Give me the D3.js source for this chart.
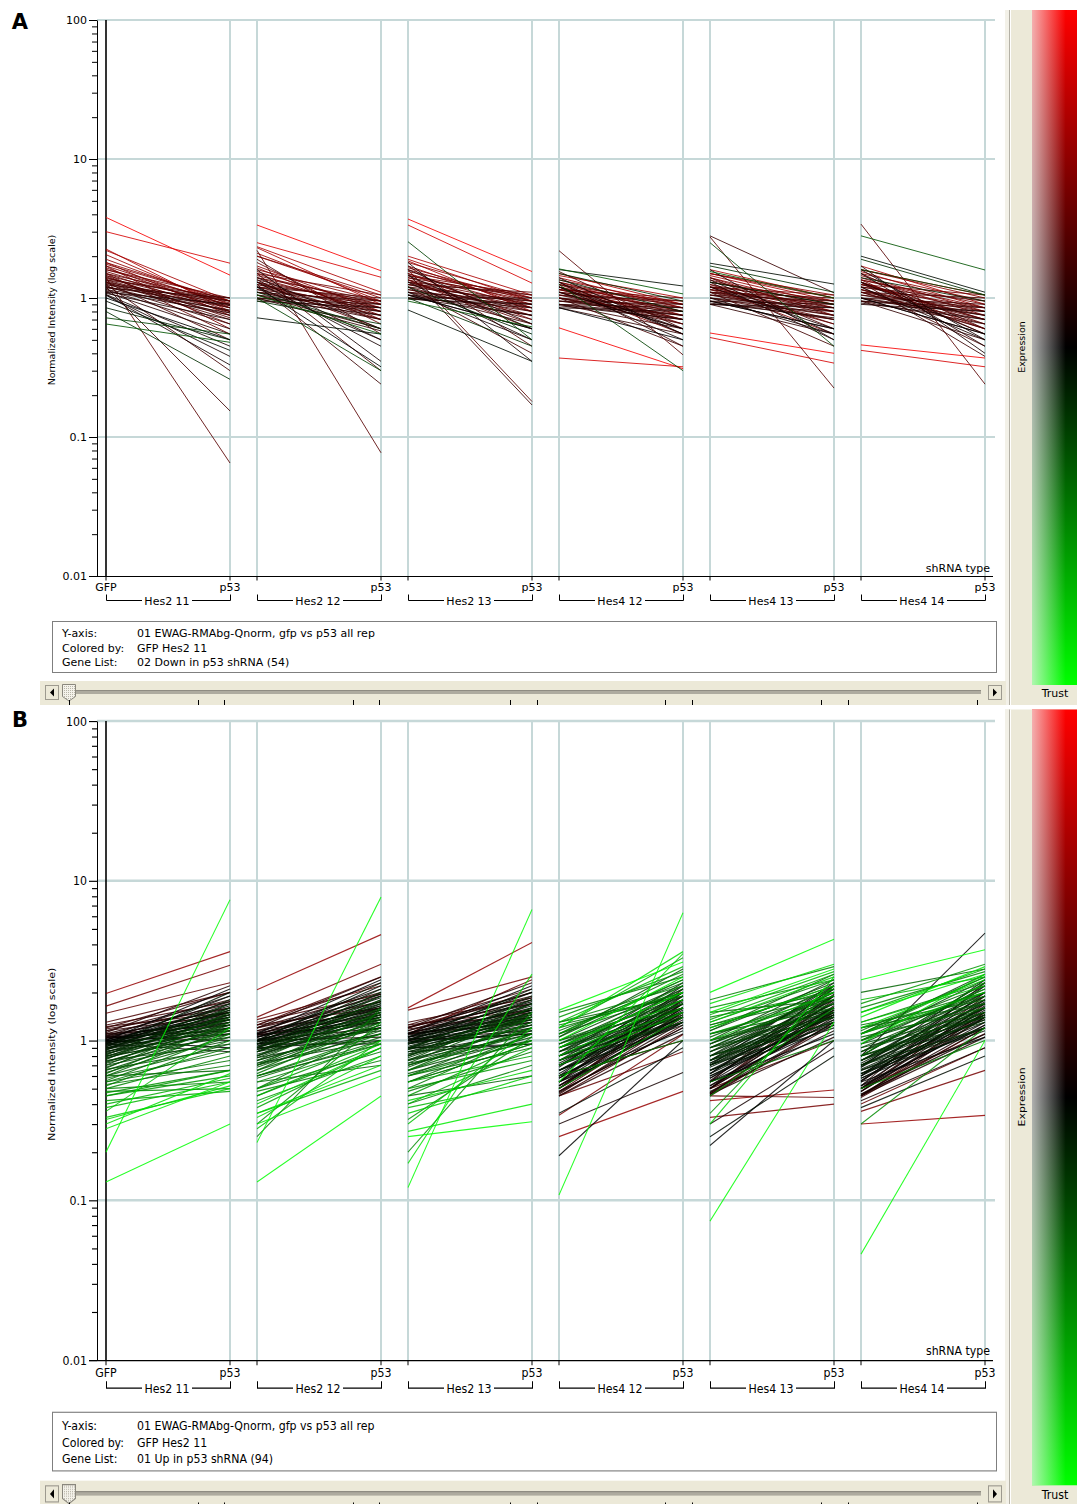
<!DOCTYPE html>
<html>
<head>
<meta charset="utf-8">
<script src="https://cdn.jsdelivr.net/npm/d3@7/dist/d3.min.js"></script>
<style>
  body { margin: 0; background: #fff; }
  text { font-family: "DejaVu Sans", Verdana, sans-serif; }
</style>
</head>
<body>
<svg id="chart" width="1077" height="1504"></svg>
<script>
// ---- chart values -------------------------------------------------------
const groups = ["Hes2 11", "Hes2 12", "Hes2 13", "Hes4 12", "Hes4 13", "Hes4 14"];
const conditions = ["GFP", "p53"];
const yTicks = [0.01, 0.1, 1, 10, 100];
const yTickLabels = ["0.01", "0.1", "1", "10", "100"];
const colorSource = "GFP Hes2 11";
const yAxisSource = "01 EWAG-RMAbg-Qnorm, gfp vs p53 all rep";

// one row per gene: GFP, p53 for each shRNA group (normalized intensity)
const downGenes = [
  [3.8,1.46, 3.35,1.57, 3.7,1.55, 0.61,0.31, 0.56,0.40, 0.46,0.37],
  [3.0,1.78, 2.5,1.41, 3.35,1.28, 0.37,0.32, 0.52,0.34, 0.42,0.32],
  [0.65,0.48, 1.05,0.55, 0.95,0.62, 1.62,1.07, 1.55,1.0, 2.8,1.59],
  [0.72,0.55, 1.0,0.30, 2.54,0.5, 1.25,0.30, 2.5,0.45, 1.6,1.05],
  [0.8,0.26, 0.95,0.65, 1.0,0.45, 1.5,0.95, 1.7,1.1, 1.9,1.05],
  [0.85,0.5, 1.1,0.6, 1.2,0.55, 1.35,0.8, 1.3,0.9, 1.4,0.95],
  [0.95,0.42, 0.72,0.55, 0.82,0.35, 1.6,1.22, 1.78,1.26, 2.0,1.1],
  [1.0,0.5, 1.2,0.32, 1.05,0.6, 0.85,0.5, 0.95,0.6, 1.0,0.55],
  [1.05,0.33, 1.3,0.45, 1.1,0.5, 1.1,0.6, 1.0,0.55, 1.2,0.5],
  [1.4,0.065, 2.2,0.077, 1.6,0.18, 2.19,0.39, 2.75,0.225, 3.4,0.24],
  [1.2,0.154, 1.25,0.24, 1.5,0.17, 1.3,0.45, 2.8,1.09, 1.3,0.38],
  [2.25,0.8, 2.34,1.1, 2.0,1.05, 1.5,0.9, 1.6,1.0, 1.7,0.9],
  [2.2,0.95, 2.3,0.9, 1.9,0.95, 1.45,1.0, 1.5,0.95, 1.6,1.05],
  [2.05,0.85, 2.1,0.95, 1.85,0.8, 1.4,0.85, 1.45,0.9, 1.55,0.85],
  [1.9,0.9, 2.0,1.0, 1.8,1.0, 1.35,0.9, 1.5,1.05, 1.5,0.95],
  [1.8,0.75, 1.7,0.8, 1.7,0.85, 1.3,0.75, 1.4,0.85, 1.45,0.8],
  [1.75,0.95, 1.6,0.95, 1.6,0.9, 1.25,0.8, 1.35,0.8, 1.4,0.75],
  [1.7,0.88, 1.55,0.85, 1.55,1.0, 1.3,0.85, 1.3,0.95, 1.35,0.85],
  [1.65,0.8, 1.5,0.75, 1.5,0.85, 1.2,0.7, 1.4,0.75, 1.3,0.7],
  [1.6,0.92, 1.45,0.9, 1.45,0.95, 1.25,0.9, 1.25,0.85, 1.35,0.9],
  [1.55,0.85, 1.4,0.8, 1.4,0.8, 1.15,0.75, 1.2,0.8, 1.25,0.8],
  [1.5,0.78, 1.4,0.95, 1.35,0.9, 1.2,0.8, 1.3,0.9, 1.3,0.65],
  [1.5,0.95, 1.35,0.85, 1.4,1.0, 1.1,0.85, 1.15,0.9, 1.2,0.85],
  [1.45,0.9, 1.3,0.9, 1.3,0.85, 1.15,0.7, 1.2,0.75, 1.15,0.75],
  [1.42,0.72, 1.3,0.7, 1.3,0.75, 1.1,0.65, 1.1,0.7, 1.25,0.7],
  [1.4,0.85, 1.25,0.8, 1.25,0.9, 1.05,0.8, 1.15,0.85, 1.1,0.8],
  [1.38,0.95, 1.25,0.95, 1.3,1.05, 1.1,0.9, 1.2,0.95, 1.2,0.95],
  [1.35,0.8, 1.2,0.85, 1.25,0.8, 1.0,0.75, 1.1,0.8, 1.15,0.7],
  [1.33,0.75, 1.2,0.75, 1.2,0.7, 1.05,0.7, 1.05,0.75, 1.1,0.65],
  [1.3,0.9, 1.15,0.9, 1.2,0.95, 1.0,0.85, 1.1,0.9, 1.05,0.85],
  [1.3,0.7, 1.15,0.7, 1.15,0.75, 1.0,0.65, 1.0,0.7, 1.1,0.6],
  [1.28,0.85, 1.1,0.8, 1.15,0.85, 0.95,0.75, 1.05,0.8, 1.05,0.75],
  [1.25,0.8, 1.1,0.75, 1.1,0.8, 1.0,0.7, 1.0,0.75, 1.0,0.7],
  [1.25,0.95, 1.1,0.95, 1.1,0.95, 0.95,0.9, 1.05,0.95, 1.0,0.9],
  [1.22,0.65, 1.05,0.6, 1.1,0.65, 0.9,0.6, 0.95,0.6, 1.0,0.55],
  [1.2,0.88, 1.05,0.85, 1.05,0.9, 0.95,0.8, 1.0,0.85, 0.95,0.8],
  [1.2,0.75, 1.05,0.7, 1.05,0.75, 0.9,0.7, 0.95,0.7, 0.95,0.65],
  [1.18,1.0, 1.0,0.9, 1.0,1.0, 0.9,0.85, 0.95,0.9, 0.95,0.85],
  [1.15,0.82, 1.0,0.8, 1.0,0.85, 0.9,0.75, 0.9,0.8, 1.0,0.75],
  [1.15,0.6, 1.0,0.58, 1.05,0.6, 0.85,0.55, 0.9,0.55, 0.95,0.5],
  [1.12,0.78, 0.98,0.75, 1.0,0.75, 0.88,0.7, 0.92,0.72, 0.92,0.7],
  [1.1,0.9, 0.95,0.85, 0.98,0.9, 0.85,0.8, 0.9,0.85, 0.9,0.8],
  [1.1,0.55, 1.35,0.5, 1.6,0.65, 1.3,0.55, 1.3,0.5, 1.5,0.45],
  [1.08,0.7, 1.4,0.6, 1.45,0.6, 1.2,0.6, 1.2,0.6, 1.3,0.55],
  [1.06,0.45, 1.2,0.5, 1.3,0.5, 1.2,0.5, 1.35,0.55, 1.6,0.5],
  [1.05,0.38, 1.6,0.35, 1.8,0.35, 1.4,0.55, 1.6,0.5, 1.7,0.4],
  [1.3,0.5, 1.9,0.55, 1.7,0.45, 1.55,0.6, 1.4,0.6, 1.5,0.6],
  [1.5,0.55, 1.8,0.65, 1.35,0.6, 1.25,0.65, 1.25,0.65, 1.35,0.55],
  [1.7,0.6, 1.65,0.7, 1.5,0.7, 1.2,0.55, 1.2,0.55, 1.3,0.6],
  [1.8,0.95, 2.0,1.05, 1.65,0.95, 1.15,0.95, 1.5,1.0, 1.6,1.0],
  [1.25,0.3, 1.5,0.3, 1.2,0.4, 1.0,0.45, 1.1,0.45, 1.2,0.45],
  [1.35,1.0, 1.2,1.0, 1.25,1.1, 1.05,0.95, 1.1,1.0, 1.1,1.0],
  [1.6,1.0, 1.5,1.05, 1.45,1.05, 1.15,1.0, 1.2,1.05, 1.25,1.05],
  [1.45,0.65, 1.3,0.6, 1.35,0.65, 1.1,0.6, 1.15,0.65, 1.15,0.6]
];

const upGenes = [
  [0.13,0.30, 0.13,0.45, 0.25,0.31, 1.55,3.1, 2.0,4.3, 2.4,3.7],
  [0.2,7.6, 0.23,7.9, 0.12,6.6, 0.108,6.3, 0.074,1.3, 0.046,1.0],
  [1.97,3.6, 2.08,4.6, 1.6,4.1, 0.25,0.48, 0.42,0.49, 0.30,0.34],
  [1.64,2.96, 1.4,3.0, 1.55,2.5, 0.34,1.09, 0.33,0.40, 0.36,0.65],
  [1.48,2.3, 1.35,2.2, 1.1,2.4, 0.45,0.85, 0.45,0.44, 0.4,0.9],
  [1.3,2.0, 1.25,2.5, 1.2,2.0, 0.6,1.0, 0.5,1.0, 0.5,1.1],
  [0.28,0.55, 0.3,0.6, 0.27,0.4, 1.0,2.5, 1.5,2.8, 1.4,2.9],
  [0.3,0.62, 0.35,0.7, 0.17,2.6, 1.2,3.6, 1.7,3.0, 1.5,2.6],
  [0.33,0.5, 0.4,0.9, 0.35,0.6, 0.9,2.0, 1.3,2.5, 1.2,2.4],
  [0.36,1.2, 0.28,1.0, 0.3,1.2, 0.8,1.8, 1.2,2.2, 1.3,2.2],
  [0.4,0.58, 0.45,0.95, 0.4,0.9, 0.7,1.5, 1.0,2.0, 1.1,2.0],
  [0.45,0.65, 0.5,1.0, 0.45,1.0, 0.75,1.6, 1.1,1.9, 1.0,2.1],
  [0.6,0.65, 0.55,0.7, 0.45,0.6, 1.3,1.9, 1.5,1.8, 2.0,2.8],
  [0.5,0.8, 0.55,0.95, 0.6,1.0, 1.3,2.2, 1.4,2.0, 1.3,2.3],
  [0.52,1.0, 0.6,1.1, 0.55,0.95, 1.2,2.0, 1.3,2.4, 1.2,2.0],
  [0.55,0.9, 0.5,1.2, 0.5,1.1, 1.1,2.6, 1.25,1.9, 1.15,2.5],
  [0.56,1.1, 0.62,1.3, 0.65,1.2, 1.25,1.9, 1.2,2.2, 1.25,1.8],
  [0.58,0.85, 0.58,1.0, 0.6,0.9, 1.0,1.8, 1.1,1.8, 1.1,1.9],
  [0.6,1.2, 0.65,1.4, 0.7,1.3, 1.15,2.3, 1.15,2.6, 1.1,2.2],
  [0.6,0.95, 0.6,1.05, 0.55,1.1, 0.95,1.7, 1.0,1.7, 1.05,1.6],
  [0.62,1.3, 0.7,1.5, 0.65,1.4, 1.1,2.0, 1.05,2.1, 1.0,2.0],
  [0.63,1.05, 0.65,1.15, 0.6,1.2, 1.05,2.4, 1.1,1.6, 1.2,1.7],
  [0.65,1.15, 0.68,1.25, 0.7,1.1, 1.0,1.6, 0.95,1.9, 1.0,1.7],
  [0.66,0.9, 0.6,0.95, 0.62,1.0, 0.9,1.5, 1.0,1.5, 0.95,1.5],
  [0.67,1.4, 0.75,1.6, 0.72,1.5, 1.05,2.8, 1.15,2.3, 1.1,2.6],
  [0.68,1.25, 0.72,1.35, 0.68,1.3, 0.95,2.1, 0.9,2.0, 0.9,1.9],
  [0.7,1.0, 0.7,1.1, 0.65,1.05, 0.9,1.8, 0.95,1.8, 0.85,1.6],
  [0.7,1.5, 0.8,1.8, 0.75,1.6, 1.0,2.2, 1.0,2.4, 1.0,2.4],
  [0.72,1.1, 0.75,1.2, 0.7,1.15, 0.85,1.4, 0.9,1.4, 0.9,1.4],
  [0.73,1.3, 0.78,1.45, 0.8,1.4, 0.95,1.9, 0.85,1.7, 0.85,1.8],
  [0.74,1.2, 0.7,1.3, 0.75,1.25, 0.9,1.6, 0.9,1.6, 0.8,1.5],
  [0.75,0.95, 0.72,1.0, 0.72,1.0, 0.8,1.3, 0.8,1.3, 0.8,1.3],
  [0.76,1.6, 0.85,1.9, 0.8,1.7, 0.9,2.0, 0.95,2.2, 0.95,2.1],
  [0.77,1.35, 0.8,1.5, 0.78,1.45, 0.85,1.7, 0.85,1.6, 0.75,1.6],
  [0.78,1.15, 0.75,1.25, 0.76,1.2, 0.8,1.5, 0.8,1.4, 0.8,1.4],
  [0.79,1.45, 0.85,1.7, 0.82,1.6, 0.85,1.9, 0.9,1.9, 0.85,2.0],
  [0.8,1.25, 0.8,1.4, 0.85,1.35, 0.8,1.6, 0.8,1.5, 0.75,1.45],
  [0.8,1.05, 0.78,1.1, 0.75,1.1, 0.75,1.3, 0.75,1.3, 0.7,1.2],
  [0.81,1.7, 0.9,2.0, 0.88,1.8, 0.85,2.1, 0.85,2.0, 0.8,2.2],
  [0.82,1.4, 0.85,1.55, 0.8,1.5, 0.8,1.7, 0.75,1.7, 0.75,1.7],
  [0.83,1.2, 0.82,1.3, 0.85,1.25, 0.75,1.45, 0.75,1.45, 0.7,1.35],
  [0.84,1.55, 0.9,1.75, 0.9,1.7, 0.8,1.8, 0.8,1.8, 0.75,1.9],
  [0.85,1.3, 0.85,1.45, 0.88,1.4, 0.75,1.5, 0.7,1.55, 0.7,1.5],
  [0.86,1.1, 0.85,1.2, 0.82,1.15, 0.7,1.3, 0.7,1.25, 0.65,1.2],
  [0.87,1.8, 0.95,2.1, 0.95,1.9, 0.8,2.3, 0.8,2.1, 0.8,2.3],
  [0.88,1.45, 0.9,1.6, 0.9,1.5, 0.75,1.6, 0.72,1.6, 0.7,1.6],
  [0.88,1.25, 0.88,1.35, 0.9,1.3, 0.7,1.4, 0.7,1.4, 0.65,1.35],
  [0.89,1.6, 0.92,1.8, 0.95,1.7, 0.72,1.75, 0.75,1.9, 0.72,1.8],
  [0.9,1.35, 0.9,1.5, 0.92,1.45, 0.7,1.5, 0.68,1.5, 0.66,1.45],
  [0.9,1.15, 0.88,1.2, 0.88,1.2, 0.65,1.25, 0.65,1.2, 0.62,1.15],
  [0.91,2.0, 1.0,2.3, 1.0,2.1, 0.75,2.0, 0.75,2.2, 0.75,2.0],
  [0.92,1.5, 0.95,1.65, 0.95,1.55, 0.7,1.6, 0.7,1.7, 0.68,1.7],
  [0.92,1.3, 0.92,1.4, 0.95,1.35, 0.65,1.4, 0.65,1.35, 0.62,1.3],
  [0.93,1.7, 0.98,1.9, 1.0,1.8, 0.7,1.9, 0.72,1.8, 0.7,1.9],
  [0.94,1.4, 0.95,1.55, 0.97,1.5, 0.65,1.5, 0.62,1.45, 0.6,1.45],
  [0.95,1.2, 0.95,1.3, 0.95,1.25, 0.6,1.3, 0.6,1.3, 0.58,1.2],
  [0.95,1.9, 1.0,2.2, 1.05,2.0, 0.68,2.2, 0.7,2.3, 0.68,2.4],
  [0.96,1.55, 1.0,1.7, 1.0,1.65, 0.65,1.7, 0.65,1.6, 0.62,1.6],
  [0.97,1.35, 0.98,1.45, 1.0,1.4, 0.6,1.4, 0.6,1.45, 0.58,1.4],
  [0.98,1.1, 0.95,1.15, 0.98,1.1, 0.55,1.15, 0.55,1.1, 0.55,1.05],
  [0.98,1.65, 1.05,1.85, 1.05,1.75, 0.62,1.8, 0.62,1.9, 0.6,1.75],
  [0.99,1.45, 1.0,1.6, 1.02,1.55, 0.58,1.55, 0.58,1.5, 0.56,1.55],
  [1.0,1.25, 1.0,1.35, 1.0,1.3, 0.55,1.3, 0.55,1.25, 0.52,1.25],
  [1.0,2.1, 1.1,2.4, 1.1,2.2, 0.6,2.0, 0.62,2.1, 0.6,2.2],
  [1.01,1.5, 1.05,1.65, 1.05,1.6, 0.55,1.6, 0.55,1.6, 0.52,1.65],
  [1.02,1.3, 1.02,1.4, 1.05,1.35, 0.52,1.35, 0.52,1.35, 0.5,1.3],
  [1.03,1.75, 1.08,1.95, 1.1,1.85, 0.58,1.7, 0.58,1.75, 0.56,1.8],
  [1.04,1.4, 1.05,1.5, 1.08,1.45, 0.5,1.45, 0.5,1.4, 0.48,1.4],
  [1.05,1.15, 1.0,1.2, 1.02,1.15, 0.48,1.2, 0.48,1.15, 0.46,1.1],
  [1.05,1.6, 1.1,1.75, 1.1,1.7, 0.52,1.5, 0.52,1.55, 0.5,1.5],
  [1.06,1.9, 1.12,2.1, 1.15,2.0, 0.55,1.9, 0.56,1.95, 0.55,2.0],
  [1.07,1.35, 1.08,1.45, 1.1,1.4, 0.47,1.3, 0.47,1.3, 0.46,1.25],
  [1.08,1.5, 1.1,1.6, 1.12,1.55, 0.5,1.4, 0.5,1.45, 0.48,1.45],
  [1.1,1.25, 1.08,1.3, 1.1,1.3, 0.45,1.1, 0.46,1.05, 0.45,1.05],
  [1.1,1.7, 1.15,1.9, 1.15,1.8, 0.52,1.6, 0.5,1.65, 0.5,1.6],
  [1.12,2.2, 1.2,2.5, 1.2,2.3, 0.55,2.1, 0.55,2.2, 0.52,2.3],
  [1.15,1.45, 1.15,1.55, 1.18,1.5, 0.48,1.2, 0.46,1.25, 0.45,1.2],
  [1.15,1.8, 1.2,2.0, 1.2,1.9, 0.5,1.7, 0.5,1.8, 0.48,1.7],
  [1.18,1.6, 1.2,1.75, 1.22,1.7, 0.46,1.4, 0.47,1.5, 0.45,1.4],
  [1.2,2.0, 1.25,2.3, 1.25,2.1, 0.5,1.8, 0.5,1.9, 0.5,1.9],
  [1.22,1.5, 1.25,1.6, 1.25,1.55, 0.45,1.25, 0.45,1.3, 0.44,1.2],
  [1.25,1.75, 1.3,1.95, 1.3,1.85, 0.48,1.5, 0.46,1.55, 0.45,1.5],
  [1.0,0.9, 0.95,0.95, 0.9,0.95, 0.19,1.0, 0.22,1.0, 0.8,4.7],
  [1.05,1.0, 1.0,1.05, 1.0,1.1, 0.3,0.63, 0.3,0.9, 0.42,0.9],
  [0.95,0.85, 0.9,1.0, 0.85,0.95, 0.35,0.9, 0.25,0.8, 0.38,0.8],
  [0.5,0.55, 0.48,0.75, 0.4,0.7, 1.5,2.5, 1.8,2.9, 1.6,2.7],
  [0.45,0.6, 0.42,0.8, 0.5,0.75, 1.4,2.7, 1.6,2.4, 1.7,3.0],
  [0.38,0.55, 0.35,0.65, 0.38,0.55, 1.3,2.9, 1.45,2.7, 1.8,2.5],
  [0.42,0.48, 0.38,0.9, 0.55,0.8, 1.2,3.3, 1.35,2.6, 1.5,2.8],
  [0.32,0.52, 0.33,0.8, 0.42,0.65, 0.55,3.5, 0.3,2.5, 0.95,2.6],
  [0.47,0.65, 0.45,0.9, 0.32,1.05, 1.1,2.4, 0.35,2.2, 1.1,2.5],
  [0.53,0.7, 0.5,0.85, 0.48,0.85, 0.9,2.2, 1.25,2.1, 0.8,2.3],
  [0.48,0.5, 0.3,1.3, 0.2,1.5, 0.5,1.4, 0.45,1.6, 0.3,1.2],
  [0.55,0.75, 0.25,1.6, 0.55,0.95, 0.6,1.0, 0.55,1.0, 0.5,1.0]
];

const panels = [
  { letter: "A", genes: downGenes, listName: "02 Down in p53 shRNA" },
  { letter: "B", genes: upGenes,   listName: "01 Up in p53 shRNA" }
];

// ---- scales ---------------------------------------------------------------
const x = d3.scaleBand().domain(groups).range([106, 985])
  .paddingInner(27 / 151).paddingOuter(0).align(0);
const xc = d3.scalePoint().domain(conditions).range([0, x.bandwidth()]);
const y = d3.scaleLog().domain([0.01, 100]).range([576, 20]);
// expression colour: green (low) - black (1) - red (high), on a log-ratio scale
const colorT = d3.scaleLog().domain([0.25, 4]).range([-1, 1]).clamp(true);
function color(v) {
  const t = colorT(v);
  if (t >= 0) return d3.rgb(Math.round(255 * Math.pow(t, 0.75)), 0, 0).formatHex();
  return d3.rgb(0, Math.round(255 * Math.pow(-t, 0.95)), 0).formatHex();
}

const svg = d3.select("#chart");
const beige = "#ece9d8";
const gridColor = "#c6d8d8";
const fs = 11;

// gradients for the colour key
const defs = svg.append("defs");
const eg = defs.append("linearGradient").attr("id", "exprGrad")
  .attr("x1", 0).attr("y1", 0).attr("x2", 0).attr("y2", 1);
eg.append("stop").attr("offset", 0).attr("stop-color", "#ff0000");
eg.append("stop").attr("offset", 0.5).attr("stop-color", "#000000");
eg.append("stop").attr("offset", 1).attr("stop-color", "#00ff00");
const tg = defs.append("linearGradient").attr("id", "trustGrad")
  .attr("x1", 0).attr("y1", 0).attr("x2", 1).attr("y2", 0);
tg.append("stop").attr("offset", 0).attr("stop-color", "#f4f4f4").attr("stop-opacity", 0.72);
tg.append("stop").attr("offset", 0.75).attr("stop-color", "#f4f4f4").attr("stop-opacity", 0);
const dots = defs.append("pattern").attr("id", "thumbDots").attr("width", 2).attr("height", 2)
  .attr("patternUnits", "userSpaceOnUse");
dots.append("rect").attr("width", 2).attr("height", 2).attr("fill", "#f4f2ea");
dots.append("rect").attr("width", 1).attr("height", 1).attr("fill", "#b8b5a8");

function drawPanel(g, genes, listName) {
  // right-hand colour key
  g.append("rect").attr("x", 1005).attr("y", 10).attr("width", 72).attr("height", 695).attr("fill", beige);
  g.append("rect").attr("x", 1005).attr("y", 10).attr("width", 4).attr("height", 695).attr("fill", "#f3f1e8");
  g.append("line").attr("x1", 1009.5).attr("x2", 1009.5).attr("y1", 10).attr("y2", 705)
    .attr("stroke", "#b4b1a6");
  g.append("line").attr("x1", 1010.5).attr("x2", 1010.5).attr("y1", 10).attr("y2", 705)
    .attr("stroke", "#ffffff");
  g.append("rect").attr("x", 1032).attr("y", 10).attr("width", 45).attr("height", 675)
    .attr("fill", "url(#exprGrad)");
  g.append("rect").attr("x", 1032).attr("y", 10).attr("width", 45).attr("height", 675)
    .attr("fill", "url(#trustGrad)");
  g.append("text").attr("transform", "translate(1025,347) rotate(-90)")
    .attr("text-anchor", "middle").attr("font-size", 9.5).attr("fill", "#000").text("Expression");
  g.append("text").attr("x", 1055).attr("y", 697).attr("text-anchor", "middle")
    .attr("font-size", fs).attr("fill", "#000").text("Trust");

  // horizontal grid at each decade
  g.append("g").selectAll("line").data(yTicks.slice(1)).join("line")
    .attr("x1", 97).attr("x2", 995)
    .attr("y1", d => y(d)).attr("y2", d => y(d))
    .attr("stroke", gridColor).attr("stroke-width", 2);

  // vertical condition columns
  const cols = groups.flatMap(gr => conditions.map(c => ({ gr, c, x: x(gr) + xc(c) })));
  g.append("g").selectAll("line").data(cols).join("line")
    .attr("x1", d => d.x).attr("x2", d => d.x).attr("y1", y(100)).attr("y2", y(0.01))
    .attr("stroke", (d, i) => i === 0 ? "#000" : gridColor)
    .attr("stroke-width", (d, i) => i === 0 ? 1.6 : 2);

  // gene profiles, one segment per shRNA group
  const order = genes.map((r, i) => i).sort((a, b) => genes[b][0] - genes[a][0]);
  const segs = [];
  order.forEach(i => {
    const r = genes[i];
    groups.forEach((gr, k) => {
      segs.push({ x0: x(gr) + xc("GFP"), x1: x(gr) + xc("p53"),
                  v0: r[2 * k], v1: r[2 * k + 1], c: color(r[0]) });
    });
  });
  g.append("g").selectAll("line").data(segs).join("line")
    .attr("x1", d => d.x0).attr("x2", d => d.x1)
    .attr("y1", d => y(d.v0)).attr("y2", d => y(d.v1))
    .attr("stroke", d => d.c).attr("stroke-width", 1).attr("stroke-opacity", 0.85);

  // y axis with minor ticks
  const minors = [];
  [0.01, 0.1, 1, 10].forEach(dec => { for (let m = 2; m <= 9; m++) minors.push(dec * m); });
  const yAxis = g.append("g").attr("transform", "translate(97,0)")
    .call(d3.axisLeft(y).tickValues(yTicks).tickSize(8).tickSizeOuter(0).tickPadding(2)
      .tickFormat((d, i) => yTickLabels[i]));
  yAxis.selectAll("text").attr("font-size", fs).attr("font-family", "DejaVu Sans, Verdana, sans-serif");
  g.append("g").attr("transform", "translate(97,0)")
    .call(d3.axisLeft(y).tickValues(minors).tickSize(5).tickSizeOuter(0).tickFormat(""))
    .select(".domain").remove();
  g.append("text").attr("transform", "translate(55,310) rotate(-90)")
    .attr("text-anchor", "middle").attr("font-size", 9.5).text("Normalized Intensity (log scale)");

  // bottom axis
  g.append("line").attr("x1", 89).attr("x2", 993).attr("y1", 576.5).attr("y2", 576.5)
    .attr("stroke", "#000");
  g.append("g").selectAll("line").data(cols).join("line")
    .attr("x1", d => d.x).attr("x2", d => d.x).attr("y1", 576).attr("y2", 580.5)
    .attr("stroke", "#000");
  g.append("text").attr("x", 990).attr("y", 572).attr("text-anchor", "end")
    .attr("font-size", fs).text("shRNA type");
  g.append("g").selectAll("text").data(cols.filter((d, i) => i === 0 || d.c === "p53")).join("text")
    .attr("x", d => d.x).attr("y", 591).attr("text-anchor", "middle")
    .attr("font-size", fs).text(d => d.c);

  // group brackets
  const br = g.append("g").selectAll("g").data(groups).join("g");
  br.append("path")
    .attr("d", d => `M${x(d) + 0.5},594.5V600.5H${x(d) + x.bandwidth() + 0.5}V594.5`)
    .attr("fill", "none").attr("stroke", "#000");
  br.append("rect")
    .attr("x", d => x(d) + x.bandwidth() / 2 - 26).attr("y", 594)
    .attr("width", 50).attr("height", 12).attr("fill", "#fff");
  br.append("text").attr("x", d => x(d) + x.bandwidth() / 2 - 1).attr("y", 605)
    .attr("text-anchor", "middle").attr("font-size", fs).text(d => d);

  // info box
  g.append("rect").attr("x", 52.5).attr("y", 621.5).attr("width", 944).attr("height", 51)
    .attr("fill", "#fff").attr("stroke", "#7f7f7f");
  const info = [["Y-axis:", yAxisSource], ["Colored by:", colorSource],
                ["Gene List:", `${listName} (${genes.length})`]];
  const rows = g.append("g").selectAll("g").data(info).join("g")
    .attr("transform", (d, i) => `translate(0,${637 + i * 14.5})`);
  rows.append("text").attr("x", 62).attr("font-size", fs).text(d => d[0]);
  rows.append("text").attr("x", 137).attr("font-size", fs).text(d => d[1]);

  // scroll bar
  g.append("rect").attr("x", 40).attr("y", 681).attr("width", 966).attr("height", 24).attr("fill", beige);
  g.append("rect").attr("x", 76).attr("y", 690).attr("width", 905).attr("height", 4).attr("fill", "#aeab9f");
  g.append("line").attr("x1", 76).attr("x2", 981).attr("y1", 690.5).attr("y2", 690.5).attr("stroke", "#8f8c82");
  [[45.5, "M54,688.5L50,692.5L54,696.5Z"], [988.5, "M993,688.5L997,692.5L993,696.5Z"]].forEach(([bx, tri]) => {
    g.append("rect").attr("x", bx).attr("y", 685.5).attr("width", 13).attr("height", 14)
      .attr("fill", beige).attr("stroke", "#9d9a8f");
    g.append("path").attr("d", tri).attr("fill", "#000");
  });
  g.append("path").attr("d", "M62.5,684.5H75.5V696.5L69,701L62.5,696.5Z")
    .attr("fill", "url(#thumbDots)").attr("stroke", "#8a877d");
  const marks = [69, 198, 224, 353, 379, 510, 537, 665, 692, 821, 848, 977];
  g.append("g").selectAll("line").data(marks).join("line")
    .attr("x1", d => d + 0.5).attr("x2", d => d + 0.5).attr("y1", 700).attr("y2", 705)
    .attr("stroke", "#000");
}

panels.forEach((p, i) => {
  const g = svg.append("g")
    .attr("transform", i === 0 ? null : "translate(0,698) scale(1,1.1493)");
  drawPanel(g, p.genes, p.listName);
});

// panel letters
svg.selectAll("text.letter").data(panels).join("text").attr("class", "letter")
  .attr("x", 20).attr("y", (d, i) => i === 0 ? 29 : 727).attr("text-anchor", "middle")
  .attr("font-family", "Liberation Sans, Arial, sans-serif")
  .attr("font-size", 21).attr("font-weight", "bold").text(d => d.letter);
</script>
</body>
</html>
